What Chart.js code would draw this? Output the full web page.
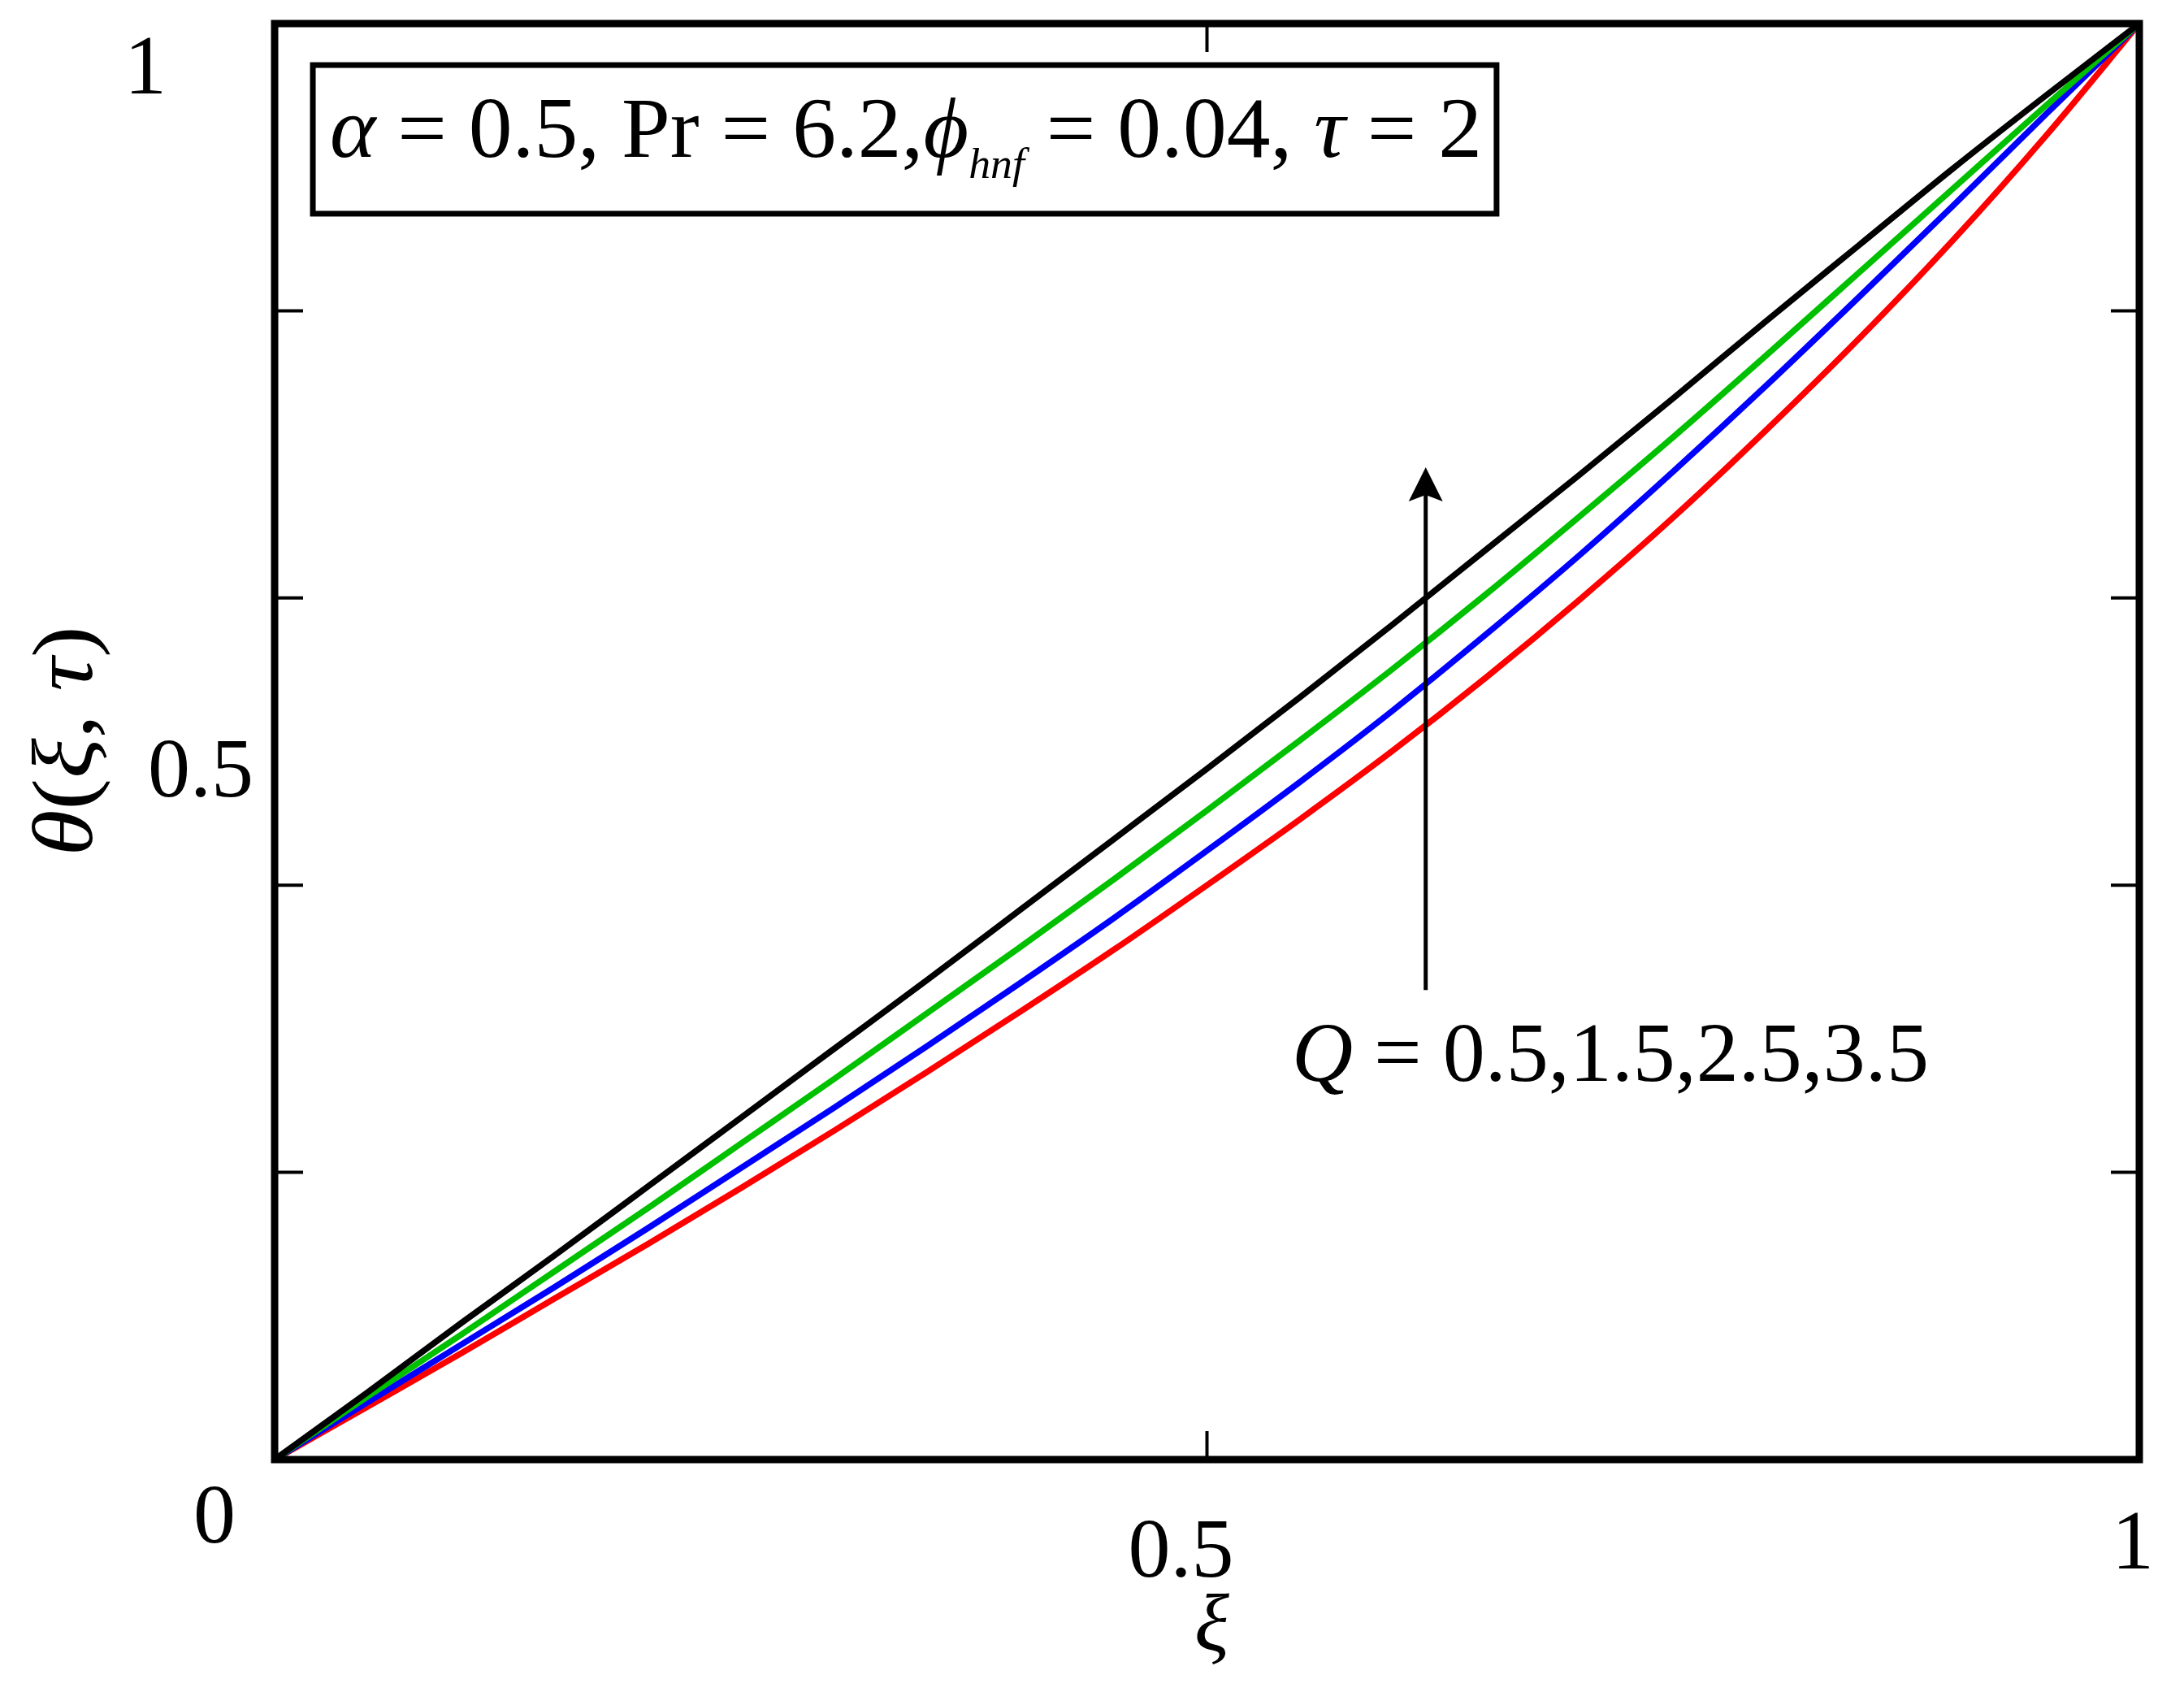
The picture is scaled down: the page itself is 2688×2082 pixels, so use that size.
<!DOCTYPE html>
<html>
<head>
<meta charset="utf-8">
<script src="https://cdn.jsdelivr.net/npm/chart.js@4.4.1/dist/chart.umd.min.js"></script>
<style>
html,body{margin:0;padding:0;background:#fff;}
canvas{display:block;}
</style>
</head>
<body>
<canvas id="c" width="2688" height="2082"></canvas>
<script>
// ---------------- data ----------------
const xi = [0,0.05,0.1,0.15,0.2,0.25,0.3,0.35,0.4,0.45,0.5,0.55,0.6,0.65,0.7,0.75,0.8,0.85,0.9,0.95,1];
const thetaQ35 = [0,0.047,0.095,0.142,0.190,0.238,0.286,0.334,0.383,0.432,0.481,0.531,0.582,0.634,0.686,0.739,0.793,0.846,0.899,0.950,1];
const thetaQ25 = [0,0.044,0.087,0.131,0.175,0.220,0.265,0.311,0.357,0.404,0.452,0.501,0.551,0.603,0.657,0.712,0.769,0.827,0.885,0.943,1];
const thetaQ15 = [0,0.040,0.080,0.120,0.161,0.203,0.245,0.288,0.332,0.377,0.424,0.472,0.522,0.575,0.630,0.688,0.748,0.810,0.873,0.937,1];
const thetaQ05 = [0,0.037,0.074,0.112,0.150,0.189,0.229,0.270,0.312,0.355,0.400,0.446,0.494,0.545,0.599,0.656,0.717,0.781,0.849,0.922,1];
const seriesNames = ['Q = 3.5','Q = 2.5','Q = 1.5','Q = 0.5'];
const seriesColors = ['#000000','#00c000','#0000ff','#ff0000'];

const xTickMarks = [0.5];
const yTickMarks = [0.2,0.4,0.6,0.8];
const xTickValues = [0.5, 1];
const xTickLabels = ['0.5','1'];
const yTickValues = [0.5, 1];
const yTickLabels = ['0.5','1'];
const originLabel = '0';
const xTitle = 'ξ';

// ---------------- layout (pixel offsets / annotation anchors) ----------------
const yLabelOffsets = [{dx:-91, dy:67}, {dx:-159, dy:86}];   // from (left, y(v))
const xLabelOffsets = [{dx:-32, dy:144}, {dx:-8, dy:134}];   // from (x(v), bottom)
const originOffset = {dx:-74, dy:102};
const paramBox = {x0:0.0205, x1:0.6553, y0:0.8676, y1:0.9711, tx0:0.0296, tx1:0.6475, base:0.9072};
const arrowSpec = {x:0.6173, yFrom:0.327, yTo:0.691};
const qSpec = {x0:0.5455, x1:0.8871, base:0.2637};

const FONT = '"Liberation Serif", "Times New Roman", serif';

function drawPieces(ctx, pieces, x, y, size, targetW){
  let total = 0; const ws = [];
  for (const p of pieces){
    const sz = (p.scale||1)*size;
    ctx.font = (p.it?'italic ':'') + sz + 'px ' + FONT;
    const w = ctx.measureText(p.t).width; ws.push(w); total += w;
  }
  const sx = targetW ? targetW/total : 1;
  ctx.save();
  ctx.translate(x, y);
  ctx.scale(sx, 1);
  ctx.textAlign = 'left';
  ctx.textBaseline = 'alphabetic';
  let cx = 0;
  pieces.forEach((p,i)=>{
    const sz = (p.scale||1)*size;
    ctx.font = (p.it?'italic ':'') + sz + 'px ' + FONT;
    ctx.fillText(p.t, cx, p.dy||0);
    cx += ws[i];
  });
  ctx.restore();
}

const decor = {
  id:'decor',
  afterDatasetsDraw(chart){
    const ctx = chart.ctx;
    const a = chart.chartArea;
    const X = v => chart.scales.x.getPixelForValue(v);
    const Y = v => chart.scales.y.getPixelForValue(v);
    ctx.save();
    ctx.fillStyle = '#000';
    ctx.strokeStyle = '#000';
    // inward ticks
    ctx.lineWidth = 4;
    ctx.beginPath();
    yTickMarks.forEach(v=>{
      const py = Y(v);
      ctx.moveTo(a.left, py); ctx.lineTo(a.left+35, py);
      ctx.moveTo(a.right, py); ctx.lineTo(a.right-35, py);
    });
    xTickMarks.forEach(v=>{
      const px = X(v);
      ctx.moveTo(px, a.bottom); ctx.lineTo(px, a.bottom-35);
      ctx.moveTo(px, a.top); ctx.lineTo(px, a.top+35);
    });
    ctx.stroke();
    // frame
    ctx.lineWidth = 9;
    ctx.strokeRect(a.left, a.top, a.right-a.left, a.bottom-a.top);

    // tick labels
    ctx.textAlign = 'center';
    ctx.textBaseline = 'alphabetic';
    ctx.font = '104px ' + FONT;
    yTickValues.forEach((v,i)=>{
      ctx.fillText(yTickLabels[i], a.left + yLabelOffsets[i].dx, Y(v) + yLabelOffsets[i].dy);
    });
    xTickValues.forEach((v,i)=>{
      ctx.fillText(xTickLabels[i], X(v) + xLabelOffsets[i].dx, a.bottom + xLabelOffsets[i].dy);
    });
    ctx.fillText(originLabel, a.left + originOffset.dx, a.bottom + originOffset.dy);

    // x title
    ctx.font = 'italic 100px ' + FONT;
    ctx.fillText(xTitle, X(0.5)+6, 2030);

    // y title (rotated)
    ctx.save();
    ctx.translate(113, (a.top+a.bottom)/2);
    ctx.rotate(-Math.PI/2);
    drawPieces(ctx, [{t:'θ',it:1},{t:'('},{t:'ξ',it:1},{t:', '},{t:'τ',it:1},{t:')'}], -141, 0, 106, 283);
    ctx.restore();

    // parameter box
    const bx0 = X(paramBox.x0), bx1 = X(paramBox.x1), by0 = Y(paramBox.y1), by1 = Y(paramBox.y0);
    ctx.fillStyle = '#fff';
    ctx.fillRect(bx0, by0, bx1-bx0, by1-by0);
    ctx.fillStyle = '#000';
    ctx.lineWidth = 7;
    ctx.strokeRect(bx0, by0, bx1-bx0, by1-by0);
    drawPieces(ctx, [
      {t:'α',it:1},{t:' = 0.5, Pr = 6.2,'},{t:'ϕ',it:1},{t:'hnf',it:1,scale:0.5,dy:26},
      {t:' = 0.04, '},{t:'τ',it:1},{t:' = 2'}
    ], X(paramBox.tx0), Y(paramBox.base), 106, X(paramBox.tx1)-X(paramBox.tx0));

    // arrow
    const ax = X(arrowSpec.x), ay0 = Y(arrowSpec.yFrom), ay1 = Y(arrowSpec.yTo);
    ctx.lineWidth = 5;
    ctx.beginPath();
    ctx.moveTo(ax, ay0); ctx.lineTo(ax, ay1+30);
    ctx.stroke();
    ctx.beginPath();
    ctx.moveTo(ax, ay1);
    ctx.lineTo(ax-21, ay1+42);
    ctx.lineTo(ax, ay1+34);
    ctx.lineTo(ax+21, ay1+42);
    ctx.closePath();
    ctx.fill();

    // Q label
    drawPieces(ctx, [{t:'Q',it:1},{t:' = 0.5,1.5,2.5,3.5'}], X(qSpec.x0), Y(qSpec.base), 104, X(qSpec.x1)-X(qSpec.x0));
    ctx.restore();
  }
};

const series = [thetaQ35, thetaQ25, thetaQ15, thetaQ05];
const datasets = series.map((arr, k)=>({
  label: seriesNames[k],
  data: xi.map((x,i)=>({x:x, y:arr[i]})),
  borderColor: seriesColors[k],
  backgroundColor: seriesColors[k],
  borderWidth: 7.5,
  pointRadius: 0,
  fill: false,
  cubicInterpolationMode: 'monotone'
}));

new Chart(document.getElementById('c'), {
  type: 'line',
  data: { datasets },
  options: {
    responsive: false,
    devicePixelRatio: 1,
    animation: false,
    layout: { padding: { left: 338, right: 55, top: 29, bottom: 286 } },
    plugins: { legend: { display: false }, tooltip: { enabled: false }, title: { display: false } },
    scales: {
      x: { type: 'linear', min: 0, max: 1, display: false },
      y: { type: 'linear', min: 0, max: 1, display: false }
    }
  },
  plugins: [decor]
});
</script>
</body>
</html>
